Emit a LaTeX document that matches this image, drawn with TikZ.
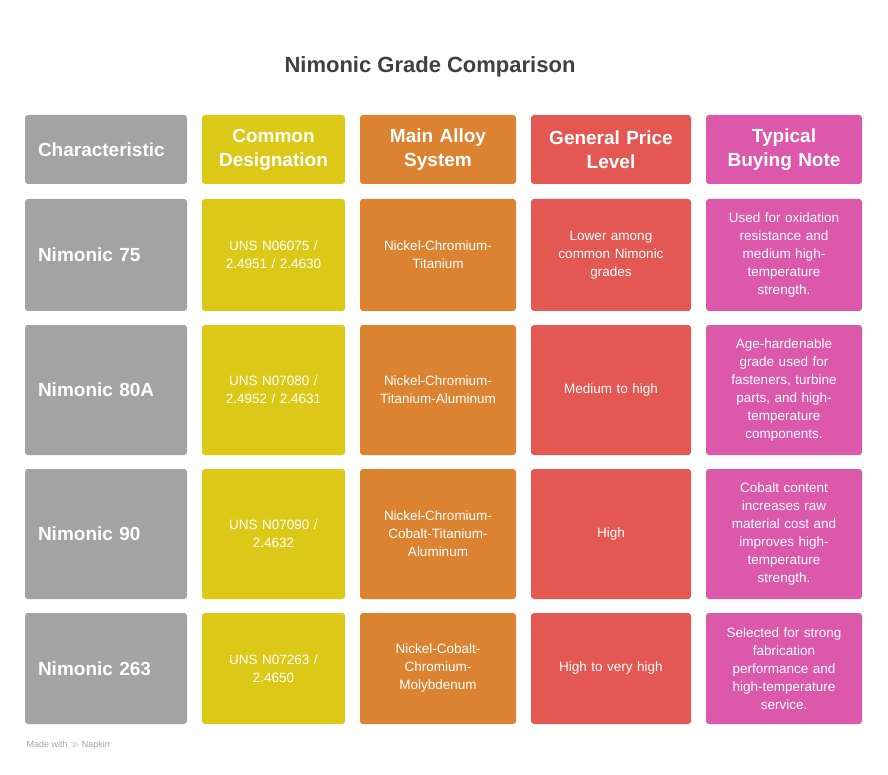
\documentclass[tikz,border=0pt]{standalone}
\usepackage{fontspec}
\setmainfont{Liberation Sans}
\usetikzlibrary{positioning}
\definecolor{ngray}{HTML}{A3A3A3}
\definecolor{nyellow}{HTML}{DCC917}
\definecolor{norange}{HTML}{DB8331}
\definecolor{nred}{HTML}{E35852}
\definecolor{npink}{HTML}{DB58AA}
\definecolor{ntitle}{HTML}{404040}

\begin{document}
\begin{tikzpicture}[x=1pt, y=-1pt,
  cell/.style={rectangle, rounded corners=3pt, inner sep=0pt, text=white, align=center, font=\fontsize{13.5}{18}\selectfont},
  head/.style={cell, font=\fontsize{19}{24}\selectfont\bfseries},
]
\useasboundingbox (0,0) rectangle (888,775);
\node[font=\fontsize{22}{26}\selectfont\bfseries, text=ntitle] (title) at (430,67) {Nimonic Grade Comparison};

% Header row
\node[head, fill=ngray, minimum width=162pt, minimum height=69pt, text width=136pt, align=left] (h1) at (106,149.5) {Characteristic};
\node[head, fill=nyellow, minimum width=143pt, minimum height=69pt, text width=135pt] (h2) at (273.5,149.5) {Common\\Designation};
\node[head, fill=norange, minimum width=156pt, minimum height=69pt, text width=145pt] (h3) at (438,149.5) {Main Alloy\\System};
\node[head, fill=nred, minimum width=160pt, minimum height=69pt, text width=150pt] (h4) at (611,149.5) {General Price\\Level};
\node[head, fill=npink, minimum width=156pt, minimum height=69pt, text width=145pt] (h5) at (784,149.5) {Typical\\Buying Note};

% Nimonic 75
\node[head, fill=ngray, minimum width=162pt, minimum height=112pt, text width=136pt, align=left] (a1) at (106,255) {Nimonic 75};
\node[cell, fill=nyellow, minimum width=143pt, minimum height=112pt, text width=125pt] (a2) at (273.5,255) {UNS N06075 /\\2.4951 / 2.4630};
\node[cell, fill=norange, minimum width=156pt, minimum height=112pt, text width=135pt] (a3) at (438,255) {Nickel-Chromium-\\Titanium};
\node[cell, fill=nred, minimum width=160pt, minimum height=112pt, text width=130pt] (a4) at (611,255) {Lower among\\common Nimonic\\grades};
\node[cell, fill=npink, minimum width=156pt, minimum height=112pt, text width=135pt] (a5) at (784,255) {Used for oxidation\\resistance and\\medium high-\\temperature\\strength.};

% Nimonic 80A
\node[head, fill=ngray, minimum width=162pt, minimum height=130pt, text width=136pt, align=left] (b1) at (106,390) {Nimonic 80A};
\node[cell, fill=nyellow, minimum width=143pt, minimum height=130pt, text width=125pt] (b2) at (273.5,390) {UNS N07080 /\\2.4952 / 2.4631};
\node[cell, fill=norange, minimum width=156pt, minimum height=130pt, text width=140pt] (b3) at (438,390) {Nickel-Chromium-\\Titanium-Aluminum};
\node[cell, fill=nred, minimum width=160pt, minimum height=130pt, text width=130pt] (b4) at (611,390) {Medium to high};
\node[cell, fill=npink, minimum width=156pt, minimum height=130pt, text width=135pt] (b5) at (784,390) {Age-hardenable\\grade used for\\fasteners, turbine\\parts, and high-\\temperature\\components.};

% Nimonic 90
\node[head, fill=ngray, minimum width=162pt, minimum height=130pt, text width=136pt, align=left] (c1) at (106,534) {Nimonic 90};
\node[cell, fill=nyellow, minimum width=143pt, minimum height=130pt, text width=125pt] (c2) at (273.5,534) {UNS N07090 /\\2.4632};
\node[cell, fill=norange, minimum width=156pt, minimum height=130pt, text width=135pt] (c3) at (438,534) {Nickel-Chromium-\\Cobalt-Titanium-\\Aluminum};
\node[cell, fill=nred, minimum width=160pt, minimum height=130pt, text width=130pt] (c4) at (611,534) {High};
\node[cell, fill=npink, minimum width=156pt, minimum height=130pt, text width=135pt] (c5) at (784,534) {Cobalt content\\increases raw\\material cost and\\improves high-\\temperature\\strength.};

% Nimonic 263
\node[head, fill=ngray, minimum width=162pt, minimum height=111pt, text width=136pt, align=left] (d1) at (106,668.5) {Nimonic 263};
\node[cell, fill=nyellow, minimum width=143pt, minimum height=111pt, text width=125pt] (d2) at (273.5,668.5) {UNS N07263 /\\2.4650};
\node[cell, fill=norange, minimum width=156pt, minimum height=111pt, text width=135pt] (d3) at (438,668.5) {Nickel-Cobalt-\\Chromium-\\Molybdenum};
\node[cell, fill=nred, minimum width=160pt, minimum height=111pt, text width=130pt] (d4) at (611,668.5) {High to very high};
\node[cell, fill=npink, minimum width=156pt, minimum height=111pt, text width=135pt] (d5) at (784,668.5) {Selected for strong\\fabrication\\performance and\\high-temperature\\service.};

\node[anchor=west, font=\fontsize{9}{11}\selectfont, text=ngray] (made) at (23,745) {Made with $\gg$ Napkin};
\end{tikzpicture}
\end{document}
